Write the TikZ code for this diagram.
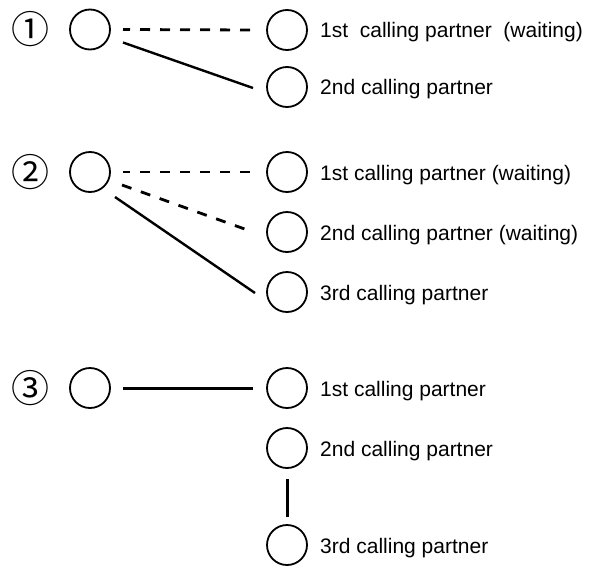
\documentclass[tikz,border=0pt]{standalone}
\usepackage{fontspec}
\setmainfont{Liberation Sans}
\newfontfamily\symfont{Noto Sans CJK JP}
\usetikzlibrary{calc}
\begin{document}
\begin{tikzpicture}[x=1pt,y=-1pt,
  party/.style={circle,draw,line width=1.8pt,minimum size=40pt,inner sep=0pt},
  lbl/.style={anchor=base west,inner sep=0pt,font=\fontsize{21}{25}\selectfont},
  num/.style={inner sep=0pt,font=\symfont\fontsize{38}{40}\selectfont},
  waitline/.style={line width=2.8pt,dash pattern=on 10pt off 10pt,dash phase=3pt},
  callline/.style={line width=2.4pt},
  confline/.style={line width=3pt}]
\useasboundingbox (0,0) rectangle (599,565);

% ---- section 1 ----
\node[num] (n1) at (31,29.5) {①};
\node[party] (a1) at (90,29.5) {};
\node[party] (a1p1) at (287,30) {};
\node[party] (a1p2) at (287,87) {};
\node[lbl] (t11) at (320,37) {1st\ \ calling partner\ \ (waiting)};
\node[lbl] (t12) at (320,94) {2nd calling partner};
\draw[waitline] ($(a1)+(33,0)$) -- ($(a1p1)+(-34,0)$);
\draw[callline] ($(a1)+(33,13)$) -- ($(a1p2)+(-34,1)$);

% ---- section 2 ----
\node[num] (n2) at (31,172) {②};
\node[party] (a2) at (90,172) {};
\node[party] (a2p1) at (287,172) {};
\node[party] (a2p2) at (287,232) {};
\node[party] (a2p3) at (287,292) {};
\node[lbl] (t21) at (320,180) {1st calling partner (waiting)};
\node[lbl] (t22) at (320,240) {2nd calling partner (waiting)};
\node[lbl] (t23) at (320,300) {3rd calling partner};
\draw[waitline] ($(a2)+(33,0)$) -- ($(a2p1)+(-34,0)$);
\draw[waitline,dash phase=0pt] ($(a2)+(32,13)$) -- ($(a2p2)+(-34,0)$);
\draw[callline] ($(a2)+(25,25)$) -- ($(a2p3)+(-32,1)$);

% ---- section 3 ----
\node[num] (n3) at (31,388) {③};
\node[party] (a3) at (90,388) {};
\node[party] (a3p1) at (287,388) {};
\node[party] (a3p2) at (287,448) {};
\node[party] (a3p3) at (287,545) {};
\node[lbl] (t31) at (320,396) {1st calling partner};
\node[lbl] (t32) at (320,456) {2nd calling partner};
\node[lbl] (t33) at (320,553) {3rd calling partner};
\draw[confline] ($(a3)+(33,0)$) -- ($(a3p1)+(-34,0)$);
\draw[confline] ($(a3p2)+(0,31)$) -- ($(a3p3)+(0,-28)$);
\end{tikzpicture}
\end{document}
